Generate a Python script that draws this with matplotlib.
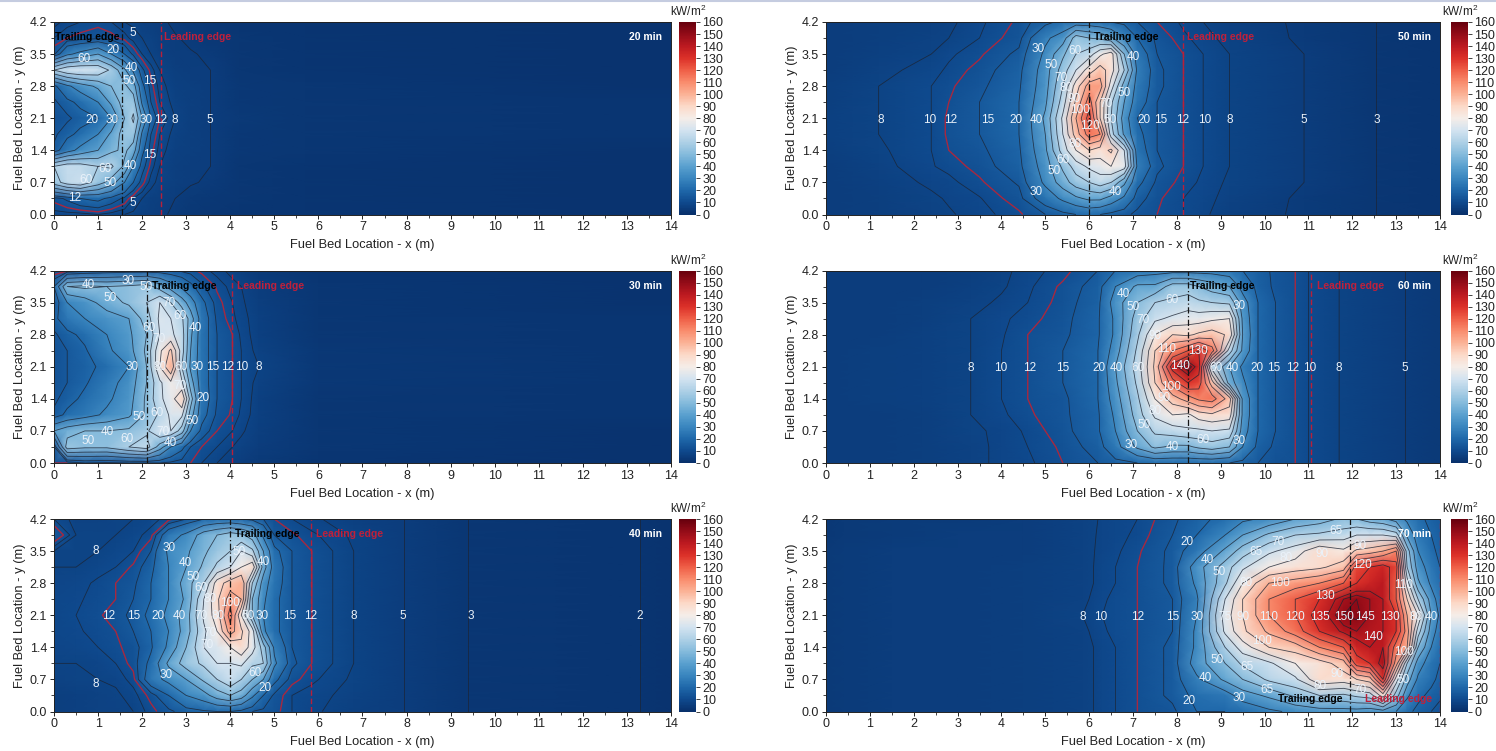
import numpy as np
import matplotlib
matplotlib.use('Agg')
import matplotlib.pyplot as plt
from matplotlib.colors import LinearSegmentedColormap
from matplotlib.lines import Line2D

plt.rcParams['font.family'] = ['Liberation Sans', 'DejaVu Sans']
plt.rcParams['mathtext.default'] = 'regular'

# heat flux, rows go from y=4.2 down to y=0
y_rows = [4.2, 3.85, 3.5, 3.15, 2.8, 2.45, 2.1, 1.75, 1.4, 1.05, 0.7, 0.35, 0.0]
levels = [2, 3, 5, 8, 10, 15, 20, 30, 40, 50, 60, 70, 80, 90, 100, 110, 120, 130, 140, 145, 150]

x20 = [0, .3, .6, 1, 1.3, 1.6, 1.8, 2, 2.2, 2.4, 2.75, 3.1, 3.55, 4.2, 5.7, 14]
z20 = [
    [7, 9, 10, 11, 10, 8, 7.5, 6.5, 6, 5.5, 4.5, 3.5, 3, 2.4, 2, 1.5],
    [10, 12, 13, 14, 13, 11, 9, 8, 7, 6, 5.2, 4.5, 3.5, 2.5, 2, 1.5],
    [14, 28, 33, 40, 30, 20, 14, 10, 8, 6.5, 5.5, 5.2, 4.6, 2.5, 2, 1.5],
    [60, 68, 70, 68, 58, 42, 28, 16, 11, 8, 6, 5.5, 5, 3, 2, 1.5],
    [18, 28, 35, 42, 50, 52, 45, 22, 13, 9, 6.5, 5.7, 5, 3.2, 2.5, 1.5],
    [14, 18, 22, 30, 42, 55, 55, 28, 15, 10, 7, 5.8, 5, 3.5, 3, 2],
    [12, 14, 17, 20, 30, 50, 62, 40, 20, 12, 8, 6, 5, 4, 3, 2],
    [14, 18, 22, 30, 42, 55, 55, 28, 15, 10, 7, 5.8, 5, 3.5, 3, 2],
    [16, 26, 33, 40, 48, 52, 45, 22, 13, 9, 6.5, 5.7, 5, 3.2, 2.5, 1.5],
    [60, 66, 65, 60, 62, 48, 30, 17, 11, 8, 6, 5.5, 5, 3, 2, 1.5],
    [55, 65, 68, 55, 45, 30, 20, 13, 9, 7, 5.7, 5.2, 4.7, 2.5, 2, 1.5],
    [13, 16, 20, 22, 18, 14, 10, 8, 6.5, 5.7, 5, 4.2, 3.4, 2.5, 2, 1.5],
    [9, 9, 9, 10, 9, 8, 7.5, 6.5, 6, 5.5, 4.5, 3.5, 2.6, 2.4, 2, 1.5],
]

x30 = [0, .3, .7, 1.2, 1.7, 2.1, 2.4, 2.65, 2.9, 3.1, 3.35, 3.7, 4.05, 4.25, 4.65, 6, 14]
z30 = [
    [9, 11, 13, 15, 16, 16, 16, 15, 14, 13, 11, 9, 7, 6, 4, 2, 1.5],
    [20, 50, 52, 50, 52, 55, 45, 35, 28, 22, 16, 11.5, 9, 8, 5, 2.5, 1.5],
    [14, 30, 35, 45, 52, 60, 70, 60, 45, 35, 22, 13, 10, 8.5, 6, 3, 1.5],
    [18, 25, 30, 35, 40, 55, 72, 70, 62, 45, 25, 14, 10.5, 9, 6.5, 3, 2],
    [14, 18, 22, 30, 38, 50, 70, 72, 65, 42, 24, 15, 12, 9.5, 6.5, 3, 2],
    [13, 15, 19, 28, 36, 52, 78, 92, 65, 40, 24, 15, 12, 10, 7, 3.5, 2],
    [13, 15, 18, 22, 30, 50, 80, 100, 60, 38, 24, 15, 12, 10, 8, 3.5, 2],
    [13, 15, 19, 26, 34, 50, 68, 78, 72, 45, 24, 15, 12, 10, 7, 3.5, 2],
    [14, 17, 22, 28, 36, 52, 68, 75, 90, 55, 25, 15, 12, 10, 6.5, 3, 2],
    [16, 22, 26, 32, 38, 52, 62, 72, 72, 45, 23, 14, 11.5, 9.5, 6.5, 3, 2],
    [40, 46, 50, 50, 52, 58, 70, 70, 55, 30, 18, 12, 10, 8.5, 6, 3, 1.5],
    [14, 55, 52, 52, 60, 65, 45, 30, 22, 15, 12, 10, 8, 7, 5, 2.5, 1.5],
    [12, 12, 15, 14, 15, 15, 15, 14, 13, 12, 10, 8, 6, 5.5, 4, 2, 1.5],
]

x40 = [0, .5, 1, 1.4, 1.8, 2.2, 2.6, 3, 3.4, 3.7, 4, 4.25, 4.5, 4.75, 5, 5.4, 5.85, 6.8, 7.95, 9.4, 13.3, 14]
z40 = [
    [10, 7, 7, 7.5, 8, 9, 11, 15, 20, 22, 22, 20, 18, 15, 12, 10, 8.5, 6.5, 5, 3, 2, 1.8],
    [15, 8, 7.5, 8, 9, 11, 25, 32, 45, 50, 55, 52, 45, 28, 15, 12.5, 10.5, 7.5, 5, 3, 2, 1.8],
    [8, 8, 8, 9, 10, 15, 32, 38, 48, 55, 60, 70, 62, 40, 22, 15, 12, 8, 5, 3, 2, 1.8],
    [8, 8, 9, 10, 12.5, 18, 30, 40, 52, 62, 70, 80, 88, 45, 25, 15, 12, 8, 5, 3, 2, 1.8],
    [8.5, 9, 10.5, 12, 14, 20, 30, 45, 60, 85, 95, 100, 60, 35, 24, 15, 12, 8, 5, 3, 2, 1.8],
    [9, 9.5, 11, 12, 15, 20, 30, 42, 70, 88, 105, 100, 50, 32, 22, 15, 12, 8, 5, 3, 2, 1.8],
    [9, 10, 11.5, 13.5, 16, 22, 33, 45, 72, 85, 115, 80, 50, 30, 22, 15, 12, 8, 5, 3, 2, 1.8],
    [9, 9.5, 11, 12, 15, 20, 30, 45, 68, 80, 105, 92, 75, 32, 22, 15, 12, 8, 5, 3, 2, 1.8],
    [8.5, 9, 10, 11.5, 13, 19, 32, 50, 70, 72, 80, 88, 75, 55, 28, 15, 12, 8, 5, 3, 2, 1.8],
    [8, 8, 8.5, 10, 13, 22, 42, 55, 62, 70, 70, 72, 62, 60, 32, 16, 12, 8, 5, 3, 2, 1.8],
    [7, 7.5, 8, 8.5, 11, 25, 33, 40, 52, 60, 68, 60, 50, 40, 22, 13, 10.5, 7.5, 5, 3, 2, 1.8],
    [6, 6.5, 7, 7.5, 9, 13, 20, 30, 36, 45, 50, 45, 32, 20, 14, 10, 9, 7, 5, 3, 2, 1.8],
    [6, 6.5, 7, 7, 8, 11, 14, 17, 19, 20, 20, 18, 15, 14, 13, 10, 8.5, 6.5, 5, 3, 2, 1.8],
]

x50 = [0, 1.2, 2.4, 2.8, 3.5, 4.4, 5, 5.4, 5.7, 6, 6.25, 6.5, 6.8, 7.1, 7.55, 8.15, 8.6, 9.2, 10.9, 12.55, 14]
z50 = [
    [5.2, 5.7, 6.8, 7.4, 9.5, 12.5, 18, 22, 24, 24, 22, 20, 18, 15, 12, 9.5, 8, 6.5, 4.5, 3, 2],
    [5.2, 6, 7.3, 8, 10, 13.5, 28, 35, 55, 50, 48, 42, 30, 20, 14, 10.5, 9, 7, 4.5, 3, 2],
    [5.3, 6.5, 8, 9.5, 11.5, 16, 32, 48, 60, 65, 78, 85, 50, 25, 15, 12, 10, 8, 5, 3, 2],
    [5.5, 7.2, 9, 10.5, 13, 18, 35, 55, 70, 85, 95, 85, 60, 28, 16, 12, 10, 8, 5, 3, 2],
    [6, 8, 10, 11.5, 14, 19, 36, 60, 85, 105, 105, 75, 45, 26, 16, 12, 10, 8, 5, 3, 2],
    [6.2, 8, 10, 12, 15, 20, 38, 65, 92, 115, 90, 62, 40, 24, 15, 12, 10, 8, 5, 3, 2],
    [6.5, 8, 10, 12.5, 15, 20, 42, 72, 100, 125, 90, 60, 35, 20, 15, 12, 10, 8, 5, 3, 2],
    [6.5, 8, 10, 12.5, 15, 20, 40, 70, 95, 115, 110, 65, 38, 22, 15, 12, 10, 8, 5, 3, 2],
    [6, 7.5, 10, 12, 14, 19, 38, 65, 80, 90, 85, 92, 70, 24, 15, 12, 10, 8, 5, 3, 2],
    [5.5, 7, 9.8, 10.7, 13, 18, 35, 52, 65, 72, 75, 80, 75, 28, 16, 12, 10, 8, 5, 3, 2],
    [5.3, 6.5, 8.5, 9.3, 11.5, 15.5, 32, 45, 55, 60, 65, 60, 42, 22, 14, 11, 9.5, 7.5, 5, 3, 2],
    [5.2, 6, 7.5, 8.3, 9.8, 13.5, 24, 32, 38, 42, 42, 36, 28, 17, 12.5, 10, 9, 7, 4.5, 3, 2],
    [5.2, 5.7, 7, 7.7, 9, 11.5, 15, 18, 20, 22, 20, 18, 16, 14, 12, 10, 8.5, 6.5, 4.5, 3, 2],
]

x60 = [0, 1, 2.2, 3.3, 4, 4.6, 5.4, 6.2, 6.6, 7.1, 7.5, 7.9, 8.25, 8.5, 8.8, 9.2, 9.5, 9.85, 10.25, 10.7, 11, 11.7, 13.2, 14]
z60 = [
    [5.2, 5.3, 5.5, 6, 7.3, 9, 11, 15, 20, 24, 26, 26, 26, 26, 26, 24, 20, 17, 14, 12, 10, 8, 5, 4],
    [5.2, 5.3, 5.5, 6.5, 7.6, 9.5, 12.5, 17, 30, 42, 42, 55, 55, 50, 45, 40, 26, 18, 14, 12, 10, 8, 5, 4],
    [5.2, 5.5, 6, 7, 8.5, 10, 13, 18, 35, 50, 60, 62, 65, 62, 60, 58, 35, 20, 15, 12, 10, 8, 5, 4],
    [5.2, 5.5, 6, 8, 9.5, 11, 13.5, 19, 32, 55, 68, 72, 75, 75, 78, 80, 38, 20, 15, 12, 10, 8, 5, 4],
    [5.2, 5.5, 6.5, 8, 9.7, 12, 14, 19, 32, 58, 80, 90, 88, 92, 95, 88, 40, 20, 15, 12, 10, 8, 5, 4],
    [5.5, 6, 6.5, 8, 10, 12, 15, 20, 35, 62, 90, 110, 120, 130, 115, 65, 38, 20, 15, 12, 10, 8, 5, 4],
    [5.5, 6, 6.5, 8, 10, 12, 15, 20, 40, 65, 92, 135, 150, 135, 65, 40, 28, 20, 15, 12, 10, 8, 5, 4],
    [5.5, 6, 6.5, 8, 10, 12, 15, 20, 38, 62, 90, 115, 130, 125, 95, 45, 32, 20, 15, 12, 10, 8, 5, 4],
    [5.5, 6, 6.5, 8, 10, 12, 14, 20, 35, 58, 80, 95, 105, 112, 115, 95, 38, 20, 15, 12, 10, 8, 5, 4],
    [5.2, 5.5, 6, 8, 9.5, 11.5, 14, 19, 32, 55, 72, 80, 78, 85, 88, 85, 38, 20, 15, 12, 10, 8, 5, 4],
    [5.2, 5.3, 6, 7.5, 8.5, 10.5, 13.5, 19, 30, 50, 62, 65, 68, 68, 70, 68, 35, 20, 15, 12, 10, 8, 5, 4],
    [5.2, 5.3, 5.7, 7, 8.7, 10, 12.5, 17, 26, 42, 52, 48, 48, 52, 55, 50, 30, 18, 14, 12, 10, 8, 5, 4],
    [5.2, 5.3, 5.7, 7, 8.7, 9.5, 12, 15, 18, 20, 22, 22, 22, 22, 22, 20, 18, 15, 13, 12, 10, 8, 5, 4],
]

x70 = [0, .4, 1.5, 3, 4.5, 5.85, 6.1, 6.3, 6.6, 7.1, 7.9, 8.45, 9.1, 9.5, 10.1, 10.7, 11.25, 11.8, 12.1, 12.4, 12.7, 13, 13.25, 13.5, 13.8, 14]
z70 = [
    [3.5, 4, 4.5, 4.5, 5, 7, 7.7, 8.3, 9, 10, 14, 18, 22, 28, 32, 40, 45, 52, 50, 45, 42, 35, 28, 22, 18, 16],
    [3.5, 4, 4.5, 5, 5.5, 7, 7.8, 8.5, 9.2, 10.5, 15, 20, 30, 40, 52, 60, 62, 65, 70, 70, 70, 65, 38, 25, 20, 17],
    [4, 4.5, 5, 5, 5.5, 7, 7.9, 8.7, 9.5, 11.5, 16, 25, 42, 55, 68, 75, 88, 82, 92, 95, 100, 110, 55, 30, 22, 18],
    [4, 4.5, 5, 5.5, 6, 7, 8, 9, 10, 12, 16, 35, 55, 68, 80, 85, 88, 95, 125, 130, 135, 125, 60, 35, 25, 20],
    [4, 4.5, 5, 5.5, 6, 7, 8, 9, 10, 12, 16, 32, 58, 80, 100, 105, 110, 120, 130, 135, 140, 120, 75, 42, 28, 22],
    [4, 4.5, 5, 5.5, 6, 7.3, 8.5, 9.5, 10.8, 12, 15, 28, 70, 90, 110, 120, 130, 145, 150, 145, 140, 120, 90, 60, 35, 25],
    [4, 4.5, 5, 5.5, 6, 8, 9.2, 10, 11, 12, 15, 30, 75, 90, 110, 120, 135, 150, 152, 145, 140, 130, 100, 80, 40, 28],
    [4, 4.5, 5, 5.5, 6, 7.3, 8.5, 9.5, 10.8, 12, 15, 32, 72, 88, 102, 115, 130, 142, 145, 142, 140, 130, 105, 65, 35, 25],
    [4, 4.5, 5, 5.5, 6, 7, 8, 9, 10, 12, 16, 32, 60, 75, 90, 95, 110, 120, 135, 140, 140, 115, 100, 50, 30, 22],
    [4, 4.5, 5, 5.5, 6, 7, 8, 9, 10, 12, 16, 35, 50, 62, 68, 80, 85, 95, 125, 130, 145, 105, 60, 35, 24, 20],
    [4, 4.5, 5, 5.5, 6, 7, 8, 9, 10, 12, 16, 28, 42, 50, 62, 68, 88, 85, 90, 95, 130, 75, 45, 28, 22, 18],
    [4, 4.5, 5, 5.5, 6, 7, 8, 9, 10, 12, 16, 22, 25, 35, 42, 52, 60, 58, 62, 65, 85, 55, 32, 22, 18, 16],
    [4, 4.5, 5, 5.5, 6, 7, 8, 9, 10, 12, 14, 20, 20, 22, 28, 32, 35, 36, 36, 34, 36, 30, 22, 18, 15, 13],
]

# contour labels: x, y, text
lab20 = [(1.79, 3.97, '5'), (1.34, 3.58, '20'), (.69, 3.4, '60'), (1.75, 3.2, '40'), (1.71, 2.91, '50'),
         (2.17, 2.92, '15'), (.87, 2.07, '20'), (1.32, 2.07, '30'), (2.08, 2.07, '30'), (2.43, 2.07, '12'),
         (2.75, 2.07, '8'), (3.54, 2.07, '5'), (2.17, 1.29, '15'), (1.15, 1.0, '60'), (1.74, 1.05, '40'),
         (.73, .75, '60'), (1.28, .69, '50'), (.47, .37, '12'), (1.79, .24, '5')]
lab30 = [(.78, 3.89, '40'), (1.67, 3.96, '30'), (2.08, 3.83, '50'), (1.28, 3.6, '50'), (2.6, 3.5, '70'),
         (2.87, 3.2, '60'), (3.2, 2.95, '40'), (2.16, 2.95, '60'), (2.39, 2.7, '70'), (1.77, 2.1, '30'),
         (2.41, 2.1, '80'), (2.88, 2.1, '60'), (3.24, 2.1, '30'), (3.6, 2.1, '15'), (3.94, 2.1, '12'),
         (4.26, 2.1, '10'), (4.64, 2.1, '8'), (2.86, 1.67, '70'), (3.37, 1.42, '20'), (1.94, 1.0, '50'),
         (2.33, 1.08, '60'), (3.13, .92, '50'), (1.22, .68, '40'), (2.47, .68, '70'), (1.65, .52, '60'),
         (.78, .48, '50'), (2.63, .44, '40')]
lab40 = [(2.61, 3.56, '30'), (2.99, 3.24, '40'), (3.15, 2.94, '50'), (3.33, 2.69, '60'), (3.53, 2.45, '80'),
         (4.0, 2.37, '100'), (4.2, 3.47, '50'), (4.75, 3.27, '40'), (1.23, 2.08, '12'), (1.8, 2.08, '15'),
         (2.36, 2.08, '20'), (2.85, 2.08, '40'), (3.34, 2.08, '70'), (3.72, 2.08, '80'), (4.4, 2.08, '50'),
         (4.72, 2.08, '30'), (5.34, 2.08, '15'), (5.82, 2.08, '12'), (6.8, 2.08, '8'), (7.92, 2.08, '5'),
         (9.45, 2.08, '3'), (13.3, 2.08, '2'), (3.46, 1.46, '70'), (3.53, 1.72, '70'), (2.55, .8, '30'),
         (4.55, .84, '60'), (4.78, .51, '20'), (.95, 3.5, '8'), (.95, .6, '8')]
lab50 = [(4.83, 3.6, '30'), (5.67, 3.57, '60'), (7.0, 3.43, '40'), (5.14, 3.27, '50'), (5.36, 2.98, '70'),
         (5.48, 2.77, '80'), (5.65, 2.51, '90'), (6.8, 2.64, '50'), (6.39, 2.42, '70'), (5.78, 2.29, '100'),
         (1.25, 2.06, '8'), (2.37, 2.06, '10'), (2.85, 2.06, '12'), (3.68, 2.06, '15'), (4.34, 2.06, '20'),
         (4.8, 2.06, '40'), (6.48, 2.06, '50'), (7.24, 2.06, '20'), (7.62, 2.06, '15'), (8.14, 2.06, '12'),
         (8.63, 2.06, '10'), (9.2, 2.06, '8'), (10.9, 2.06, '5'), (12.55, 2.06, '3'), (6.02, 1.93, '120'),
         (5.67, 1.54, '80'), (5.4, 1.19, '60'), (5.2, .96, '50'), (4.8, .49, '30'), (6.6, .49, '40')]
lab60 = [(6.78, 3.69, '40'), (7.89, 3.56, '60'), (7.0, 3.41, '50'), (9.43, 3.42, '30'), (7.23, 3.12, '70'),
         (7.51, 2.77, '90'), (7.77, 2.48, '110'), (8.47, 2.44, '130'), (3.29, 2.07, '8'), (3.98, 2.07, '10'),
         (4.64, 2.07, '12'), (5.39, 2.07, '15'), (6.22, 2.07, '20'), (6.63, 2.07, '40'), (7.12, 2.07, '60'),
         (8.08, 2.11, '140'), (8.89, 2.07, '60'), (9.26, 2.07, '40'), (9.83, 2.07, '20'), (10.2, 2.07, '15'),
         (10.65, 2.07, '12'), (11.03, 2.07, '10'), (11.7, 2.07, '8'), (13.2, 2.07, '5'), (7.87, 1.66, '100'),
         (7.7, 1.41, '90'), (7.5, 1.14, '80'), (7.25, .82, '50'), (8.6, .51, '60'), (9.43, .49, '30'),
         (6.95, .4, '30'), (7.89, .34, '40')]
lab70 = [(11.62, 3.93, '65'), (12.17, 3.61, '90'), (10.31, 3.69, '70'), (9.8, 3.49, '65'), (8.24, 3.7, '20'),
         (10.5, 3.34, '80'), (11.32, 3.43, '90'), (8.69, 3.31, '40'), (8.97, 3.05, '50'), (12.23, 3.2, '120'),
         (9.57, 2.81, '80'), (10.35, 2.81, '100'), (13.17, 2.76, '110'), (11.38, 2.53, '130'), (5.85, 2.07, '8'),
         (6.27, 2.07, '10'), (7.1, 2.07, '12'), (7.9, 2.07, '15'), (8.47, 2.07, '30'), (9.1, 2.07, '75'),
         (9.5, 2.07, '90'), (10.1, 2.07, '110'), (10.7, 2.07, '120'), (11.26, 2.07, '135'), (11.8, 2.07, '150'),
         (12.3, 2.07, '145'), (12.85, 2.07, '130'), (13.45, 2.07, '80'), (13.8, 2.07, '40'), (9.95, 1.53, '100'),
         (12.47, 1.62, '140'), (13.17, 1.29, '100'), (8.92, 1.13, '50'), (9.61, .96, '65'), (8.65, .74, '40'),
         (11.66, .82, '90'), (13.17, .68, '50'), (11.27, .56, '80'), (12.17, .47, '70'), (10.05, .47, '65'),
         (8.28, .24, '20'), (9.41, .29, '30')]

W, H = 1496, 751
fig = plt.figure(figsize=(W / 100, H / 100), dpi=100)

cols = [(0, '#08306b'), (10, '#0f4a8e'), (20, '#1f68aa'), (30, '#3a86bf'), (40, '#5aa0cf'), (50, '#85bbdc'),
        (60, '#aed0e6'), (70, '#d3e3f0'), (80, '#f5ede8'), (90, '#fcd9c8'), (100, '#fbb296'), (110, '#f98c6d'),
        (120, '#ef5f47'), (130, '#dc3129'), (140, '#bd1a20'), (150, '#940c18'), (160, '#67000d')]
cmap = LinearSegmentedColormap.from_list('flux', [(v / 160, c) for v, c in cols])


def panel(left, top, width, xs, zs, labs, name, trail, lead, trail_pos, lead_pos, lowest):
    ax = fig.add_axes([left / W, 1 - (top + 192.5) / H, width / W, 192.5 / H])
    z = np.array(zs, dtype=float)
    m = ax.pcolormesh(xs, y_rows, z, shading='gouraud', cmap=cmap, vmin=0, vmax=160)
    ax.contour(xs, y_rows, z, levels=[v for v in levels if v >= lowest], colors='#1c2433', linewidths=0.6, alpha=0.8)
    ax.contour(xs, y_rows, z, levels=[12], colors='#a8283f', linewidths=1.0)
    ax.axvline(trail, color='#151515', lw=0.9, ls=(0, (5, 2, 1, 2)))
    ax.axvline(lead, color='#b8203a', lw=1.0, ls=(0, (4, 2)))
    for x, y, t in labs:
        ax.text(x, y, t, color='#eaf2fa', fontsize=8.5, ha='center', va='center')
    ax.text(trail_pos[0], trail_pos[1], 'Trailing edge', color='black', fontsize=7.5, fontweight='bold', va='center')
    ax.text(lead_pos[0], lead_pos[1], 'Leading edge', color='#c0203a', fontsize=7.5, fontweight='bold', va='center')
    ax.text(13.8, 3.87, name, color='white', fontsize=7.5, fontweight='bold', ha='right', va='center')
    ax.set_xlim(0, 14)
    ax.set_ylim(0, 4.2)
    ax.set_xticks(range(15))
    ax.set_xticks(np.arange(0.5, 14, 1), minor=True)
    ax.set_yticks([0, .7, 1.4, 2.1, 2.8, 3.5, 4.2])
    ax.set_yticks(np.arange(0.35, 4.2, .7), minor=True)
    ax.tick_params(which='major', length=3, width=0.7, labelsize=9, pad=2, colors='#222222')
    ax.tick_params(which='minor', length=2, width=0.6, color='#222222')
    ax.set_xlabel('Fuel Bed Location - x (m)', fontsize=9.3, labelpad=4, color='#222222')
    ax.set_ylabel('Fuel Bed Location - y (m)', fontsize=9.3, labelpad=3, color='#222222')
    for s in ax.spines.values():
        s.set_linewidth(0.7)
        s.set_color('#222222')
    cax = fig.add_axes([(left + 625) / W, 1 - (top + 192.5) / H, 16.5 / W, 192.5 / H])
    cb = fig.colorbar(m, cax=cax)
    cb.set_ticks(range(0, 161, 10))
    cb.ax.tick_params(length=3, width=0.6, labelsize=9, pad=2, colors='#222222')
    cb.outline.set_linewidth(0)
    cax.text(-0.55, 1.015, 'kW/m$^2$', transform=cax.transAxes, fontsize=8.5, ha='left', va='bottom', color='#222222')


panel(54, 22, 617, x20, z20, lab20, '20 min', 1.55, 2.42, (0.02, 3.87), (2.5, 3.87), 5)
panel(54, 270.5, 617, x30, z30, lab30, '30 min', 2.1, 4.03, (2.22, 3.87), (4.16, 3.87), 8)
panel(54, 519, 617, x40, z40, lab40, '40 min', 4.0, 5.83, (4.1, 3.87), (5.95, 3.87), 2)
panel(826, 22, 614, x50, z50, lab50, '50 min', 6.0, 8.15, (6.1, 3.87), (8.23, 3.87), 3)
panel(826, 270.5, 614, x60, z60, lab60, '60 min', 8.25, 11.05, (8.31, 3.87), (11.2, 3.87), 5)
panel(826, 519, 614, x70, z70, lab70, '70 min', 11.95, 14, (10.31, .27), (12.3, .27), 8)

fig.add_artist(Line2D([0, 1], [0.9985, 0.9985], color='#c5cce0', lw=1.5))
fig.savefig('out.png', dpi=100)
